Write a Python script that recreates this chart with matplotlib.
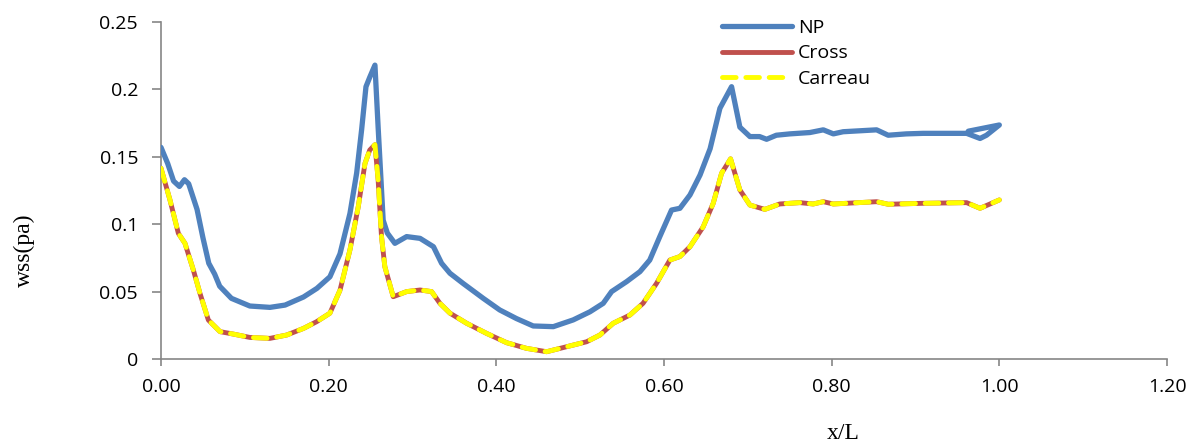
import matplotlib
matplotlib.use('Agg')
import matplotlib.pyplot as plt

plt.rcParams['font.family'] = ['Open Sans', 'DejaVu Sans']

# wall shear stress along the vessel, Newtonian vs two non-Newtonian models
np_x = [0.000, 0.008, 0.015, 0.022, 0.028, 0.033, 0.043, 0.050, 0.057, 0.064,
        0.070, 0.084, 0.106, 0.130, 0.148, 0.170, 0.186, 0.2015, 0.2135, 0.2254,
        0.2334, 0.2393, 0.2445, 0.249, 0.2552, 0.259, 0.265, 0.270, 0.279, 0.293,
        0.309, 0.325, 0.3347, 0.3447, 0.3605, 0.3844, 0.404, 0.424, 0.444, 0.468,
        0.4917, 0.5116, 0.5275, 0.5375, 0.5554, 0.5713, 0.583, 0.595, 0.609, 0.619,
        0.631, 0.643, 0.655, 0.6667, 0.6806, 0.6905, 0.7025, 0.714, 0.7224, 0.734,
        0.750, 0.774, 0.790, 0.802, 0.8137, 0.8536, 0.8674, 0.889, 0.909, 0.961,
        0.977, 0.9847, 1.000, 0.963]
np_y = [0.157, 0.145, 0.132, 0.128, 0.133, 0.130, 0.111, 0.090, 0.071, 0.063,
        0.054, 0.045, 0.0393, 0.0383, 0.040, 0.046, 0.0524, 0.061, 0.078, 0.108,
        0.138, 0.170, 0.202, 0.209, 0.218, 0.172, 0.103, 0.0934, 0.0858, 0.0908,
        0.0895, 0.0833, 0.071, 0.0636, 0.056, 0.045, 0.0364, 0.030, 0.0245, 0.024,
        0.029, 0.035, 0.0413, 0.050, 0.0574, 0.0648, 0.0734, 0.0908, 0.1105, 0.1118,
        0.1217, 0.1365, 0.156, 0.186, 0.202, 0.172, 0.165, 0.165, 0.163, 0.166,
        0.167, 0.168, 0.170, 0.167, 0.1686, 0.170, 0.166, 0.167, 0.1674, 0.1674,
        0.1636, 0.166, 0.1736, 0.169]

nn_x = [0.000, 0.0107, 0.0207, 0.0286, 0.0386, 0.0465, 0.0565, 0.0704, 0.0862, 0.106,
        0.130, 0.150, 0.170, 0.1857, 0.2015, 0.2135, 0.2254, 0.2353, 0.2433, 0.249,
        0.2552, 0.259, 0.263, 0.267, 0.277, 0.293, 0.309, 0.3228, 0.3327, 0.3447,
        0.3646, 0.3884, 0.4123, 0.436, 0.460, 0.4838, 0.5077, 0.5236, 0.5394, 0.5593,
        0.575, 0.591, 0.607, 0.619, 0.631, 0.6467, 0.6587, 0.6687, 0.6794, 0.6905,
        0.7025, 0.7203, 0.738, 0.762, 0.778, 0.790, 0.802, 0.8536, 0.8674, 0.909,
        0.961, 0.977, 1.000]
cross_y = [0.1415, 0.118, 0.0932, 0.0858, 0.066, 0.0487, 0.0289, 0.0203, 0.0185, 0.016,
           0.0153, 0.0178, 0.0227, 0.0277, 0.034, 0.051, 0.081, 0.113, 0.145, 0.155,
           0.159, 0.133, 0.091, 0.0685, 0.0462, 0.050, 0.0512, 0.050, 0.0413, 0.034,
           0.0265, 0.019, 0.0121, 0.0079, 0.0054, 0.0091, 0.0128, 0.0178, 0.0265, 0.0326,
           0.0413, 0.056, 0.0734, 0.076, 0.0833, 0.098, 0.1155, 0.1378, 0.1485, 0.1254,
           0.1142, 0.111, 0.115, 0.116, 0.115, 0.1167, 0.115, 0.1167, 0.1148, 0.1155,
           0.116, 0.1118, 0.118]
carreau_y = [0.1415, 0.118, 0.0932, 0.0858, 0.066, 0.0487, 0.0289, 0.0203, 0.0185, 0.016,
             0.0153, 0.0178, 0.0227, 0.0277, 0.034, 0.051, 0.081, 0.113, 0.145, 0.155,
             0.159, 0.133, 0.091, 0.0685, 0.0462, 0.050, 0.0512, 0.050, 0.0413, 0.034,
             0.0265, 0.019, 0.0121, 0.0079, 0.0054, 0.0091, 0.0128, 0.0178, 0.0265, 0.0326,
             0.0413, 0.056, 0.0734, 0.076, 0.0833, 0.098, 0.1155, 0.1378, 0.1485, 0.1254,
             0.1142, 0.111, 0.115, 0.116, 0.115, 0.1167, 0.115, 0.1167, 0.1148, 0.1155,
             0.116, 0.1118, 0.118]

x_ticks = [0.0, 0.2, 0.4, 0.6, 0.8, 1.0, 1.2]
x_labels = ['0.00', '0.20', '0.40', '0.60', '0.80', '1.00', '1.20']
y_ticks = [0.0, 0.05, 0.1, 0.15, 0.2, 0.25]
y_labels = ['0', '0.05', '0.1', '0.15', '0.2', '0.25']

fig = plt.figure(figsize=(12.02, 4.48), dpi=100)
ax = fig.add_axes([161 / 1202, 1 - 359 / 448, 1006 / 1202, 337 / 448])

ax.plot(np_x, np_y, color='#4F81BD', lw=3.8, solid_joinstyle='round',
        solid_capstyle='round', label='NP', zorder=3)
ax.plot(nn_x, cross_y, color='#C0504D', lw=3.5, solid_joinstyle='round',
        solid_capstyle='round', label='Cross', zorder=4)
ax.plot(nn_x, carreau_y, color='#FFFF00', lw=3.5, dashes=(2.8, 2.0),
        dash_capstyle='round', label='Carreau', zorder=5)

ax.set_xlim(0, 1.2)
ax.set_ylim(0, 0.25)
ax.set_xticks(x_ticks)
ax.set_xticklabels(x_labels)
ax.set_yticks(y_ticks)
ax.set_yticklabels(y_labels)

gray = '#868686'
for side in ['top', 'right']:
    ax.spines[side].set_visible(False)
for side in ['left', 'bottom']:
    ax.spines[side].set_color(gray)
    ax.spines[side].set_linewidth(1.2)
ax.tick_params(axis='y', colors=gray, length=6.5, width=1.2, pad=10, labelsize=14, labelcolor='black')
ax.tick_params(axis='x', colors=gray, length=5, width=1.2, pad=9, labelsize=14, labelcolor='black')

fig.text(24 / 1202, 1 - 250 / 448, 'wss(pa)', rotation=90, ha='center', va='center',
         family='Liberation Serif', fontsize=17)
fig.text(843 / 1202, 1 - 433 / 448, 'x/L', ha='center', va='center',
         family='Liberation Serif', fontsize=17)

ax.legend(loc='upper left', bbox_to_anchor=(722 / 1202, 1 - 19 / 448),
          bbox_transform=fig.transFigure, frameon=False, fontsize=14,
          handlelength=3.6, handletextpad=0.3, labelspacing=0.38,
          borderpad=0, borderaxespad=0)

fig.savefig('out.png', dpi=100)
